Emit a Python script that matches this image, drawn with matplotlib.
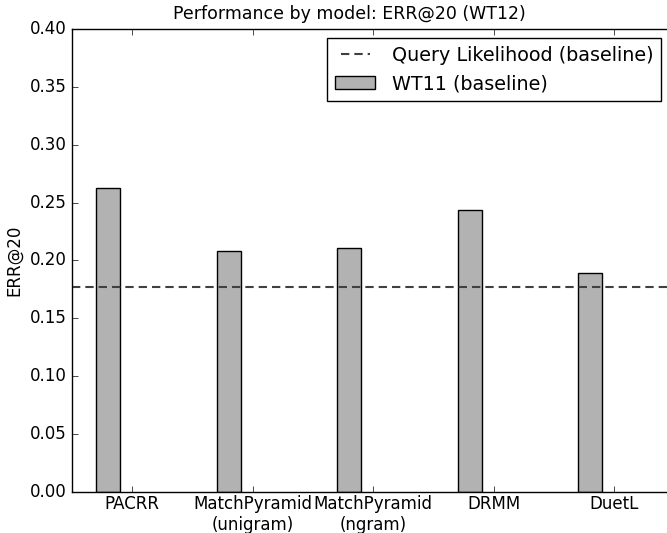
import matplotlib
matplotlib.use("Agg")
import matplotlib.pyplot as plt
import numpy as np

plt.style.use("classic")

models = ["PACRR", "MatchPyramid\n(unigram)", "MatchPyramid\n(ngram)", "DRMM", "DuetL"]
wt11 = [0.263, 0.208, 0.211, 0.244, 0.189]
ql_baseline = 0.1768

fig = plt.figure(figsize=(6.67, 5.33), dpi=100)
ax = fig.add_axes([0.108, 0.077, 0.903, 0.8686])

x = np.arange(len(models))
ax.axhline(ql_baseline, color="#404040", linewidth=1.5, dashes=(6, 3.6),
           label="Query Likelihood (baseline)")
ax.bar(x - 0.3, wt11, width=0.2, align="edge", color="#b2b2b2", label="WT11 (baseline)")

ax.set_xlim(-0.5, 4.5)
ax.set_ylim(0, 0.4)
ax.set_xticks(x)
ax.set_xticklabels(models)
ax.tick_params(axis="x", pad=2)
ax.set_ylabel("ERR@20")
# titolo centrato sulla figura
fig.text(349.5 / 667, 1 - 14 / 533, "Performance by model: ERR@20 (WT12)",
         ha="center", va="center", fontsize=12.5)
ax.legend(loc="upper right", fontsize=13.8, bbox_to_anchor=(661 / 667, 1 - 38 / 533),
          bbox_transform=fig.transFigure, borderaxespad=0, handlelength=2.1,
          handletextpad=0.85)

fig.savefig("out.png", dpi=100)
